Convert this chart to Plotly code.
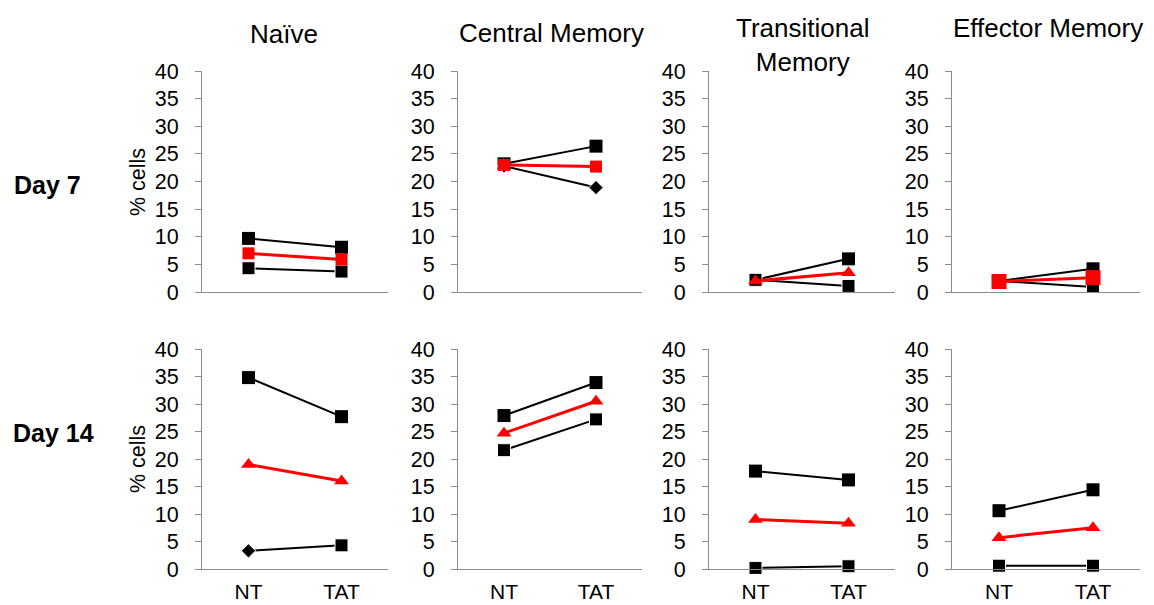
import plotly.graph_objects as go

W, H = 1154, 605

categories = ["NT", "TAT"]
panel_titles = ["Naïve", "Central Memory", "Transitional<br>Memory", "Effector Memory"]
row_labels = ["Day 7", "Day 14"]
y_ticks = [0, 5, 10, 15, 20, 25, 30, 35, 40]

# Day 7 values (upper black, red mean, lower black)
naive_d7_a = [9.7, 8.1]
naive_d7_mean = [7.0, 5.9]
naive_d7_b = [4.3, 3.7]
cm_d7_a = [23.2, 26.4]
cm_d7_mean = [23.0, 22.7]
cm_d7_b = [22.8, 18.9]
tm_d7_a = [2.2, 6.0]
tm_d7_mean = [2.0, 3.5]
tm_d7_b = [2.2, 1.1]
em_d7_a = [2.0, 4.2]
em_d7_mean = [1.9, 2.6]
em_d7_b = [2.0, 0.9]

# Day 14 values
naive_d14_a = [34.8, 27.7]
naive_d14_mean = [19.0, 16.0]
naive_d14_b = [3.3, 4.3]
cm_d14_a = [27.9, 33.9]
cm_d14_mean = [24.7, 30.5]
cm_d14_b = [21.6, 27.2]
tm_d14_a = [17.8, 16.2]
tm_d14_mean = [9.0, 8.3]
tm_d14_b = [0.2, 0.5]
em_d14_a = [10.6, 14.4]
em_d14_mean = [5.7, 7.5]
em_d14_b = [0.6, 0.6]

panels = [
    # row 0
    [(naive_d7_a, "square", naive_d7_mean, "square", naive_d7_b, ["square", "square"], 12),
     (cm_d7_a, "square", cm_d7_mean, "square", cm_d7_b, ["diamond", "diamond"], 12),
     (tm_d7_a, "square", tm_d7_mean, "triangle-up", tm_d7_b, ["square", "square"], 13),
     (em_d7_a, "square", em_d7_mean, "square", em_d7_b, ["square", "square"], 15)],
    # row 1
    [(naive_d14_a, "square", naive_d14_mean, "triangle-up", naive_d14_b, ["diamond", "square"], 13),
     (cm_d14_a, "square", cm_d14_mean, "triangle-up", cm_d14_b, ["square", "square"], 13),
     (tm_d14_a, "square", tm_d14_mean, "triangle-up", tm_d14_b, ["square", "square"], 13),
     (em_d14_a, "square", em_d14_mean, "triangle-up", em_d14_b, ["square", "square"], 13)],
]

col_px = [(202, 388), (458, 642), (709, 895), (952, 1140)]
row_px = [(71, 292), (349, 569)]

def px_x(p):
    return p / W

def px_y(p):
    return 1 - p / H

FONT = "Liberation Sans, Arial, sans-serif"
AXIS_COLOR = "#8c8c8c"
x_idx = [0, 1]

fig = go.Figure()
layout = {}
k = 0
for r in range(2):
    for c in range(4):
        k += 1
        xa = "x" if k == 1 else f"x{k}"
        ya = "y" if k == 1 else f"y{k}"
        a, asym, m, msym, b, bsym, msize = panels[r][c]
        b_sizes = [11 if s == "diamond" else 13 for s in bsym]
        fig.add_trace(go.Scatter(x=x_idx, y=a, mode="lines+markers", xaxis=xa, yaxis=ya,
                                 line=dict(color="black", width=2),
                                 marker=dict(symbol=asym, size=13, color="black", opacity=1),
                                 showlegend=False, cliponaxis=False))
        fig.add_trace(go.Scatter(x=x_idx, y=b, mode="lines+markers", xaxis=xa, yaxis=ya,
                                 line=dict(color="black", width=2),
                                 marker=dict(symbol=bsym, size=b_sizes, color="black", opacity=1),
                                 showlegend=False, cliponaxis=False))
        fig.add_trace(go.Scatter(x=x_idx, y=m, mode="lines+markers", xaxis=xa, yaxis=ya,
                                 line=dict(color="#ff0000", width=3),
                                 marker=dict(symbol=msym, size=msize, color="#ff0000", opacity=1),
                                 showlegend=False, cliponaxis=False))
        x0, x1 = col_px[c]
        y0, y1 = row_px[r]
        layout["xaxis" if k == 1 else f"xaxis{k}"] = dict(
            domain=[px_x(x0), px_x(x1)], anchor=ya, range=[-0.5, 1.5], automargin=False,
            tickvals=x_idx, ticktext=categories if r == 1 else ["", ""],
            showticklabels=(r == 1), showline=True, linecolor=AXIS_COLOR, linewidth=1,
            showgrid=False, zeroline=False, ticks="", ticklabelstandoff=4,
            tickfont=dict(size=21, color="black", family=FONT), fixedrange=True)
        layout["yaxis" if k == 1 else f"yaxis{k}"] = dict(
            domain=[px_y(y1), px_y(y0)], anchor=xa, range=[0, 40], automargin=False,
            tickvals=y_ticks, showline=True, linecolor=AXIS_COLOR, linewidth=1,
            showgrid=False, zeroline=False, ticks="outside", ticklen=6,
            tickcolor=AXIS_COLOR, ticklabelstandoff=12,
            tickfont=dict(size=21.5, color="black", family=FONT), fixedrange=True)

annotations = []
title_pos = [(284, 34), (551, 33), (802, 45), (1048, 28)]
for t, (tx, ty) in zip(panel_titles, title_pos):
    annotations.append(dict(text=t, x=px_x(tx), y=px_y(ty), xref="paper", yref="paper",
                            showarrow=False, xanchor="center", yanchor="middle",
                            font=dict(size=26, color="black", family=FONT)))
for lab, (lx, ly) in zip(row_labels, [(12, 185), (11, 433)]):
    annotations.append(dict(text=f"<b>{lab}</b>", x=px_x(lx), y=px_y(ly), xref="paper", yref="paper",
                            showarrow=False, xanchor="left", yanchor="middle",
                            font=dict(size=25, color="black", family=FONT)))
for ly in [182, 459]:
    annotations.append(dict(text="% cells", x=px_x(138), y=px_y(ly), xref="paper", yref="paper",
                            showarrow=False, textangle=-90, xanchor="center", yanchor="middle",
                            font=dict(size=21.5, color="black", family=FONT)))

fig.update_layout(width=W, height=H, margin=dict(l=0, r=0, t=0, b=0, autoexpand=False),
                  paper_bgcolor="white", plot_bgcolor="white",
                  annotations=annotations, **layout)

post = ("document.body.style.margin='0';document.body.style.overflow='hidden';"
        "var gd=document.getElementById('{plot_id}');gd.style.position='absolute';"
        "gd.style.left='0px';gd.style.top='0px';")
fig.write_html("out.html", config={"displayModeBar": False}, post_script=post)
